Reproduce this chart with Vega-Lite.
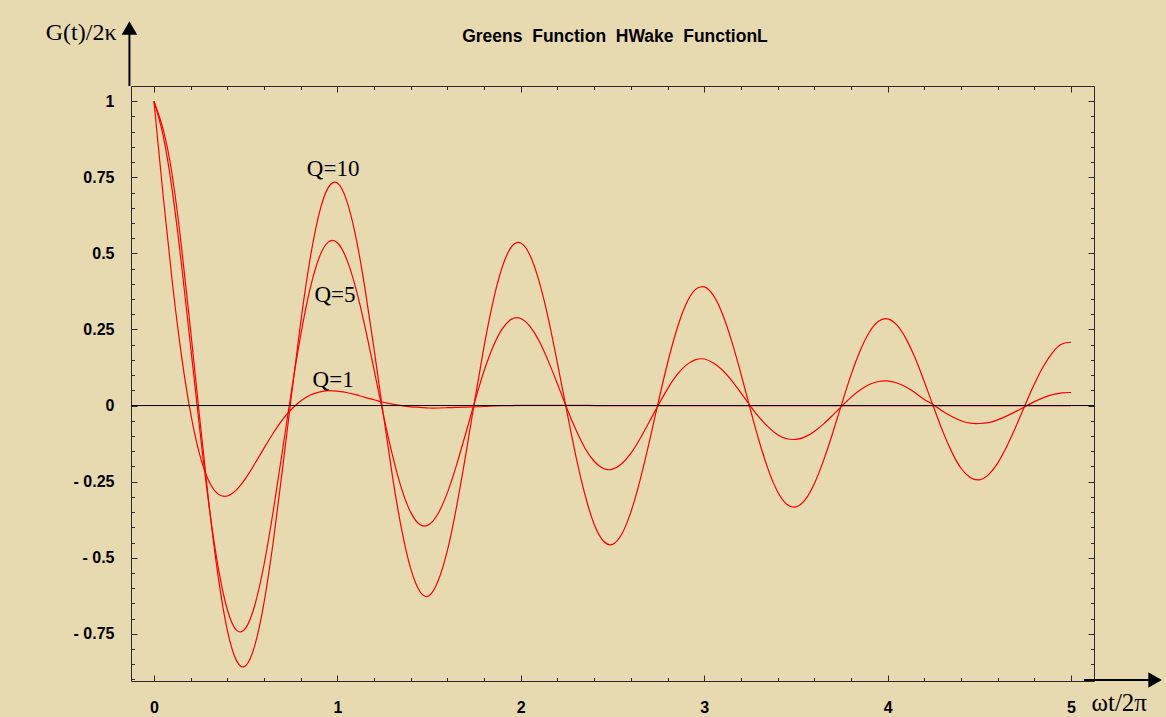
{
  "$schema": "https://vega.github.io/schema/vega-lite/v6.json",
  "width": 963,
  "height": 595,
  "autosize": "none",
  "padding": {"left": 131, "top": 86, "right": 72, "bottom": 36},
  "background": "#E8DAB0",
  "config": {"view": {"stroke": null}, "axis": {"grid": false, "domainColor": "#2a2a2a", "tickColor": "#2a2a2a", "domainWidth": 1, "tickWidth": 1}},
  "title": {"text": "Greens\u00a0\u00a0Function\u00a0\u00a0HWake\u00a0\u00a0FunctionL", "font": "Liberation Sans", "fontSize": 17.5, "fontWeight": "bold", "color": "black", "anchor": "middle", "frame": "group", "baseline": "alphabetic", "offset": 0, "dy": 39, "dx": 2.5},
  "datasets": {
    "curves": [
      {"x": 0, "q10": 1, "q5": 1, "q1": 1},
      {"x": 0.05, "q10": 0.908, "q5": 0.888, "q1": 0.691},
      {"x": 0.1, "q10": 0.756, "q5": 0.706, "q1": 0.407},
      {"x": 0.15, "q10": 0.523, "q5": 0.465, "q1": 0.165},
      {"x": 0.2, "q10": 0.247, "q5": 0.194, "q1": -0.025},
      {"x": 0.25, "q10": -0.044, "q5": -0.079, "q1": -0.162},
      {"x": 0.3, "q10": -0.323, "q5": -0.328, "q1": -0.249},
      {"x": 0.35, "q10": -0.561, "q5": -0.53, "q1": -0.291},
      {"x": 0.4, "q10": -0.738, "q5": -0.67, "q1": -0.297},
      {"x": 0.45, "q10": -0.838, "q5": -0.738, "q1": -0.277},
      {"x": 0.5, "q10": -0.855, "q5": -0.731, "q1": -0.239},
      {"x": 0.55, "q10": -0.788, "q5": -0.656, "q1": -0.191},
      {"x": 0.6, "q10": -0.648, "q5": -0.523, "q1": -0.14},
      {"x": 0.65, "q10": -0.45, "q5": -0.348, "q1": -0.091},
      {"x": 0.7, "q10": -0.214, "q5": -0.151, "q1": -0.047},
      {"x": 0.75, "q10": 0.035, "q5": 0.048, "q1": -0.012},
      {"x": 0.8, "q10": 0.273, "q5": 0.231, "q1": 0.015},
      {"x": 0.85, "q10": 0.477, "q5": 0.38, "q1": 0.034},
      {"x": 0.9, "q10": 0.629, "q5": 0.485, "q1": 0.044},
      {"x": 0.95, "q10": 0.716, "q5": 0.537, "q1": 0.049},
      {"x": 1.0, "q10": 0.731, "q5": 0.535, "q1": 0.047},
      {"x": 1.05, "q10": 0.675, "q5": 0.482, "q1": 0.043},
      {"x": 1.1, "q10": 0.556, "q5": 0.387, "q1": 0.036},
      {"x": 1.15, "q10": 0.387, "q5": 0.261, "q1": 0.027},
      {"x": 1.2, "q10": 0.186, "q5": 0.118, "q1": 0.019},
      {"x": 1.25, "q10": -0.027, "q5": -0.028, "q1": 0.011},
      {"x": 1.3, "q10": -0.231, "q5": -0.162, "q1": 0.005},
      {"x": 1.35, "q10": -0.406, "q5": -0.273, "q1": 0.0},
      {"x": 1.4, "q10": -0.536, "q5": -0.351, "q1": -0.004},
      {"x": 1.45, "q10": -0.611, "q5": -0.391, "q1": -0.006},
      {"x": 1.5, "q10": -0.625, "q5": -0.391, "q1": -0.008},
      {"x": 1.55, "q10": -0.575, "q5": -0.354, "q1": -0.008},
      {"x": 1.6, "q10": -0.476, "q5": -0.286, "q1": -0.007},
      {"x": 1.65, "q10": -0.332, "q5": -0.195, "q1": -0.006},
      {"x": 1.7, "q10": -0.161, "q5": -0.091, "q1": -0.005},
      {"x": 1.75, "q10": 0.021, "q5": 0.015, "q1": -0.004},
      {"x": 1.8, "q10": 0.195, "q5": 0.114, "q1": -0.003},
      {"x": 1.85, "q10": 0.345, "q5": 0.195, "q1": -0.001},
      {"x": 1.9, "q10": 0.457, "q5": 0.253, "q1": 0.0},
      {"x": 1.95, "q10": 0.522, "q5": 0.284, "q1": 0.0},
      {"x": 2.0, "q10": 0.534, "q5": 0.286, "q1": 0.001},
      {"x": 2.05, "q10": 0.494, "q5": 0.26, "q1": 0.001},
      {"x": 2.1, "q10": 0.408, "q5": 0.212, "q1": 0.001},
      {"x": 2.15, "q10": 0.286, "q5": 0.146, "q1": 0.001},
      {"x": 2.2, "q10": 0.139, "q5": 0.071, "q1": 0.001},
      {"x": 2.25, "q10": -0.016, "q5": -0.007, "q1": 0.001},
      {"x": 2.3, "q10": -0.165, "q5": -0.079, "q1": 0.001},
      {"x": 2.35, "q10": -0.293, "q5": -0.14, "q1": 0.001},
      {"x": 2.4, "q10": -0.39, "q5": -0.183, "q1": 0},
      {"x": 2.45, "q10": -0.445, "q5": -0.207, "q1": 0},
      {"x": 2.5, "q10": -0.456, "q5": -0.209, "q1": 0},
      {"x": 2.55, "q10": -0.423, "q5": -0.191, "q1": 0},
      {"x": 2.6, "q10": -0.35, "q5": -0.157, "q1": 0},
      {"x": 2.65, "q10": -0.246, "q5": -0.109, "q1": 0},
      {"x": 2.7, "q10": -0.121, "q5": -0.054, "q1": 0},
      {"x": 2.75, "q10": 0.012, "q5": 0.002, "q1": 0},
      {"x": 2.8, "q10": 0.139, "q5": 0.055, "q1": 0},
      {"x": 2.85, "q10": 0.249, "q5": 0.1, "q1": 0},
      {"x": 2.9, "q10": 0.332, "q5": 0.132, "q1": 0},
      {"x": 2.95, "q10": 0.38, "q5": 0.15, "q1": 0},
      {"x": 3.0, "q10": 0.39, "q5": 0.153, "q1": 0},
      {"x": 3.05, "q10": 0.362, "q5": 0.14, "q1": 0},
      {"x": 3.1, "q10": 0.3, "q5": 0.116, "q1": 0},
      {"x": 3.15, "q10": 0.211, "q5": 0.082, "q1": 0},
      {"x": 3.2, "q10": 0.105, "q5": 0.042, "q1": 0},
      {"x": 3.25, "q10": -0.009, "q5": 0.0, "q1": 0},
      {"x": 3.3, "q10": -0.118, "q5": -0.039, "q1": 0},
      {"x": 3.35, "q10": -0.212, "q5": -0.071, "q1": 0},
      {"x": 3.4, "q10": -0.283, "q5": -0.096, "q1": 0},
      {"x": 3.45, "q10": -0.324, "q5": -0.109, "q1": 0},
      {"x": 3.5, "q10": -0.333, "q5": -0.111, "q1": 0},
      {"x": 3.55, "q10": -0.31, "q5": -0.103, "q1": 0},
      {"x": 3.6, "q10": -0.257, "q5": -0.085, "q1": 0},
      {"x": 3.65, "q10": -0.181, "q5": -0.061, "q1": 0},
      {"x": 3.7, "q10": -0.091, "q5": -0.032, "q1": 0},
      {"x": 3.75, "q10": 0.006, "q5": -0.002, "q1": 0},
      {"x": 3.8, "q10": 0.1, "q5": 0.027, "q1": 0},
      {"x": 3.85, "q10": 0.18, "q5": 0.051, "q1": 0},
      {"x": 3.9, "q10": 0.241, "q5": 0.069, "q1": 0},
      {"x": 3.95, "q10": 0.277, "q5": 0.079, "q1": 0},
      {"x": 4.0, "q10": 0.285, "q5": 0.081, "q1": 0},
      {"x": 4.05, "q10": 0.265, "q5": 0.074, "q1": 0},
      {"x": 4.1, "q10": 0.22, "q5": 0.061, "q1": 0},
      {"x": 4.15, "q10": 0.156, "q5": 0.042, "q1": 0},
      {"x": 4.2, "q10": 0.078, "q5": 0.02, "q1": 0},
      {"x": 4.25, "q10": -0.004, "q5": 0.002, "q1": 0},
      {"x": 4.3, "q10": -0.084, "q5": -0.019, "q1": 0},
      {"x": 4.35, "q10": -0.153, "q5": -0.036, "q1": 0},
      {"x": 4.4, "q10": -0.206, "q5": -0.05, "q1": 0},
      {"x": 4.45, "q10": -0.236, "q5": -0.058, "q1": 0},
      {"x": 4.5, "q10": -0.244, "q5": -0.059, "q1": 0},
      {"x": 4.55, "q10": -0.227, "q5": -0.056, "q1": 0},
      {"x": 4.6, "q10": -0.189, "q5": -0.047, "q1": 0},
      {"x": 4.65, "q10": -0.134, "q5": -0.034, "q1": 0},
      {"x": 4.7, "q10": -0.068, "q5": -0.019, "q1": 0},
      {"x": 4.75, "q10": 0.003, "q5": -0.003, "q1": 0},
      {"x": 4.8, "q10": 0.071, "q5": 0.013, "q1": 0},
      {"x": 4.85, "q10": 0.13, "q5": 0.026, "q1": 0},
      {"x": 4.9, "q10": 0.175, "q5": 0.036, "q1": 0},
      {"x": 4.95, "q10": 0.202, "q5": 0.042, "q1": 0},
      {"x": 5.0, "q10": 0.208, "q5": 0.043, "q1": 0}
    ],
    "labels": [
      {"lx": 0.977, "ly": 0.755, "label": "Q=10"},
      {"lx": 0.987, "ly": 0.3415, "label": "Q=5"},
      {"lx": 0.977, "ly": 0.0624, "label": "Q=1"}
    ],
    "zero": [{"zx": -0.125, "zx2": 5.125, "zy": 0}],
    "arrows": [
      {"ax": -0.1336, "ay": 1.05, "ax2": -0.1336, "ay2": 1.24},
      {"ax": 5.07, "ay": -0.9015, "ax2": 5.45, "ay2": -0.9015}
    ],
    "heads": [
      {"hx": -0.1336, "hy": 1.2404, "dir": "up"},
      {"hx": 5.458, "hy": -0.9015, "dir": "right"}
    ]
  },
  "resolve": {"axis": {"x": "independent", "y": "independent"}},
  "layer": [
    {
      "data": {"name": "curves"},
      "transform": [{"fold": ["q10", "q5", "q1"], "as": ["Q", "g"]}],
      "mark": {"type": "line", "color": "#ff0000", "strokeWidth": 1.2, "interpolate": "natural"},
      "encoding": {
        "x": {"field": "x", "type": "quantitative",
          "scale": {"domain": [-0.125, 5.125], "nice": false, "zero": false},
          "axis": {"orient": "bottom", "ticks": false, "domain": false, "values": [0, 1, 2, 3, 4, 5], "labelFont": "Liberation Sans", "labelFontWeight": "bold", "labelFontSize": 16, "labelColor": "black", "labelPadding": 18, "labelFlush": false, "labelOverlap": false,
            "title": "ωt/2π", "titleFont": "Liberation Serif", "titleFontSize": 25, "titleFontWeight": "normal", "titleColor": "black", "titleX": 960, "titleY": 29, "titleAlign": "left", "titleBaseline": "alphabetic", "titleAngle": 0}},
        "y": {"field": "g", "type": "quantitative",
          "scale": {"domain": [-0.905, 1.05], "nice": false, "zero": false},
          "axis": {"orient": "left", "ticks": false, "domain": false, "values": [-0.75, -0.5, -0.25, 0, 0.25, 0.5, 0.75, 1], "labelExpr": "datum.value < 0 ? '- ' + format(-datum.value, '.2~f') : format(datum.value, '.2~f')", "labelFont": "Liberation Sans", "labelFontWeight": "bold", "labelFontSize": 16, "labelColor": "black", "labelPadding": 17, "labelFlush": false, "labelOverlap": false,
            "title": "G(t)/2κ", "titleFont": "Liberation Serif", "titleFontSize": 24, "titleFontWeight": "normal", "titleColor": "black", "titleX": -15, "titleY": -46.5, "titleAlign": "right", "titleBaseline": "alphabetic", "titleAngle": 0}},
        "detail": {"field": "Q", "type": "nominal"}
      }
    },
    {
      "data": {"name": "zero"},
      "mark": {"type": "rule", "color": "black", "strokeWidth": 1},
      "encoding": {
        "x": {"field": "zx", "type": "quantitative", "scale": {"domain": [-0.125, 5.125], "nice": false, "zero": false},
          "axis": {"orient": "bottom", "labels": false, "domain": true, "tickSize": -6, "values": [0, 1, 2, 3, 4, 5], "title": null}},
        "x2": {"field": "zx2"},
        "y": {"field": "zy", "type": "quantitative", "scale": {"domain": [-0.905, 1.05], "nice": false, "zero": false},
          "axis": {"orient": "left", "labels": false, "domain": true, "tickSize": -6, "values": [-0.75, -0.5, -0.25, 0, 0.25, 0.5, 0.75, 1], "title": null}}
      }
    },
    {
      "data": {"name": "labels"},
      "mark": {"type": "text", "font": "Liberation Serif", "fontSize": 23, "color": "black", "align": "center", "baseline": "alphabetic"},
      "encoding": {
        "x": {"field": "lx", "type": "quantitative", "scale": {"domain": [-0.125, 5.125], "nice": false, "zero": false},
          "axis": {"orient": "bottom", "labels": false, "domain": false, "tickSize": -3.5, "values": [0.2, 0.4, 0.6, 0.8, 1.2, 1.4, 1.6, 1.8, 2.2, 2.4, 2.6, 2.8, 3.2, 3.4, 3.6, 3.8, 4.2, 4.4, 4.6, 4.8], "title": null}},
        "y": {"field": "ly", "type": "quantitative", "scale": {"domain": [-0.905, 1.05], "nice": false, "zero": false},
          "axis": {"orient": "left", "labels": false, "domain": false, "tickSize": -3.5, "values": [-0.9, -0.85, -0.8, -0.7, -0.65, -0.6, -0.55, -0.45, -0.4, -0.35, -0.3, -0.2, -0.15, -0.1, -0.05, 0.05, 0.1, 0.15, 0.2, 0.3, 0.35, 0.4, 0.45, 0.55, 0.6, 0.65, 0.7, 0.8, 0.85, 0.9, 0.95], "title": null}},
        "text": {"field": "label", "type": "nominal"}
      }
    },
    {
      "data": {"name": "arrows"},
      "mark": {"type": "rule", "color": "black", "strokeWidth": 2, "clip": false},
      "encoding": {
        "x": {"field": "ax", "type": "quantitative", "scale": {"domain": [-0.125, 5.125], "nice": false, "zero": false},
          "axis": {"orient": "top", "labels": false, "domain": true, "tickSize": -6, "values": [0, 1, 2, 3, 4, 5], "title": null}},
        "x2": {"field": "ax2"},
        "y": {"field": "ay", "type": "quantitative", "scale": {"domain": [-0.905, 1.05], "nice": false, "zero": false},
          "axis": {"orient": "right", "labels": false, "domain": true, "tickSize": -6, "values": [-0.75, -0.5, -0.25, 0, 0.25, 0.5, 0.75, 1], "title": null}},
        "y2": {"field": "ay2"}
      }
    },
    {
      "data": {"name": "heads"},
      "mark": {"type": "point", "filled": true, "color": "black", "opacity": 1, "clip": false},
      "encoding": {
        "x": {"field": "hx", "type": "quantitative", "scale": {"domain": [-0.125, 5.125], "nice": false, "zero": false},
          "axis": {"orient": "top", "labels": false, "domain": false, "tickSize": -3.5, "values": [0.2, 0.4, 0.6, 0.8, 1.2, 1.4, 1.6, 1.8, 2.2, 2.4, 2.6, 2.8, 3.2, 3.4, 3.6, 3.8, 4.2, 4.4, 4.6, 4.8], "title": null}},
        "y": {"field": "hy", "type": "quantitative", "scale": {"domain": [-0.905, 1.05], "nice": false, "zero": false},
          "axis": {"orient": "right", "labels": false, "domain": false, "tickSize": -3.5, "values": [-0.9, -0.85, -0.8, -0.7, -0.65, -0.6, -0.55, -0.45, -0.4, -0.35, -0.3, -0.2, -0.15, -0.1, -0.05, 0.05, 0.1, 0.15, 0.2, 0.3, 0.35, 0.4, 0.45, 0.55, 0.6, 0.65, 0.7, 0.8, 0.85, 0.9, 0.95], "title": null}},
        "shape": {"field": "dir", "type": "nominal", "scale": {"domain": ["up", "right"], "range": ["triangle-up", "triangle-right"]}, "legend": null},
        "size": {"value": 243}
      }
    }
  ]
}
